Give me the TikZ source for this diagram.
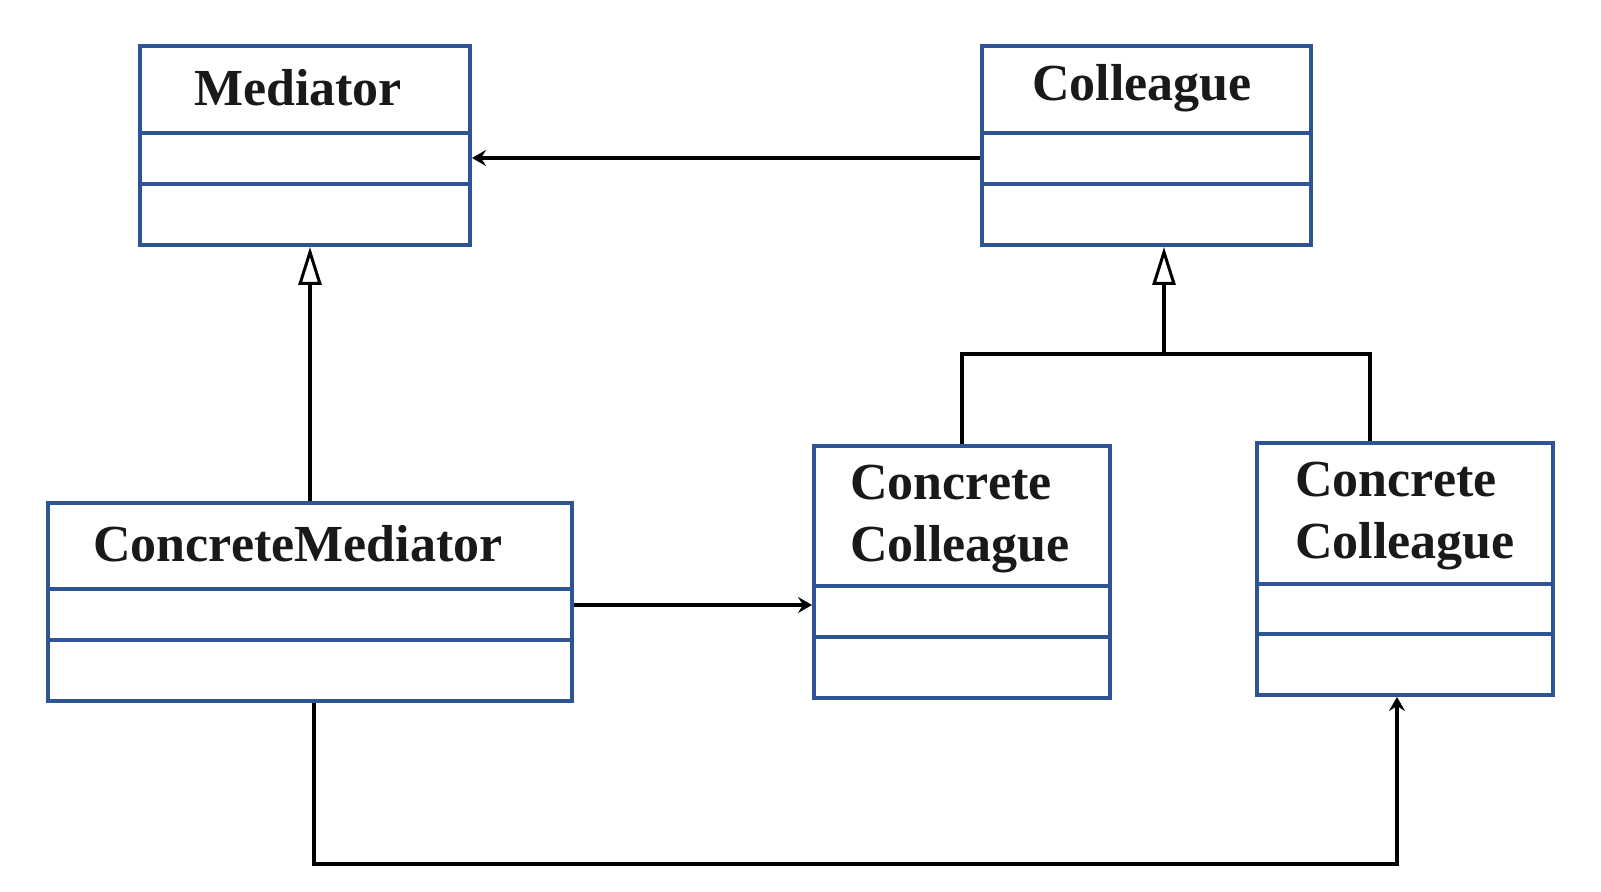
\documentclass[tikz,border=0pt]{standalone}
\usepackage{fontspec}
\setmainfont{Liberation Serif}
\usetikzlibrary{arrows.meta,fit}
\definecolor{ublue}{RGB}{47,84,150}
\newcommand\umlclass[7]{%
  \node[cls, fit={(#2,#3)(#4,#5)}] (#1) {};
  \draw[div] (#2,#6) -- (#4,#6);
  \draw[div] (#2,#7) -- (#4,#7);
}
\begin{document}
\begin{tikzpicture}[x=0.5pt,y=-0.5pt,
  cls/.style={draw=ublue,line width=2pt,inner sep=0pt},
  div/.style={draw=ublue,line width=2pt},
  title/.style={font=\fontsize{26}{31}\selectfont\bfseries, inner sep=0pt, text=black!90},
  conn/.style={line width=1.9pt, black},
  assoc/.style={conn, -{Stealth[length=7pt,width=8pt,inset=2.5pt]}},
  gen/.style={conn, -{Triangle[open,length=19pt,width=11.5pt,line width=1.5pt]}}]
\useasboundingbox (0,0) rectangle (1601,892);
\fill[white] (0,0) rectangle (1601,892);

\umlclass{med}{140}{46}{470}{245}{133}{184}
\umlclass{col}{982}{46}{1311}{245}{133}{184}
\umlclass{cm}{48}{503}{572}{701}{589}{640}
\umlclass{cca}{814}{446}{1110}{698}{586}{637}
\umlclass{ccb}{1257}{443}{1553}{695}{584}{634}

\node[title] (medt) at (298,88) {Mediator};
\node[title] (colt) at (1142,88) {Colleague};
\node[title] (cmt) at (298,544) {ConcreteMediator};
\node[title, anchor=west, align=left] (ccat) at (850,519) {Concrete\\Colleague};
\node[title, anchor=west, align=left] (ccbt) at (1295,516) {Concrete\\Colleague};

% association Colleague -> Mediator
\draw[assoc] (col.west |- 0,158) -- (med.east |- 0,158);
% generalization ConcreteMediator -> Mediator
\draw[gen] (cm.north) -- (cm.north |- med.south);
% generalization ConcreteColleagues -> Colleague
\coordinate (j) at (1164,354);
\draw[gen] (j) -- (j |- col.south);
\draw[conn] (cca.north) |- (j) -| ([xshift=-17.5pt]ccb.north);
% association ConcreteMediator -> ConcreteColleague 1
\draw[assoc] (cm.east |- 0,605) -- (cca.west |- 0,605);
% association ConcreteMediator -> ConcreteColleague 2
\coordinate (b) at (800,864);
\draw[assoc] ([xshift=2pt]cm.south) |- (b) -| ([xshift=-4pt]ccb.south);
\end{tikzpicture}
\end{document}
